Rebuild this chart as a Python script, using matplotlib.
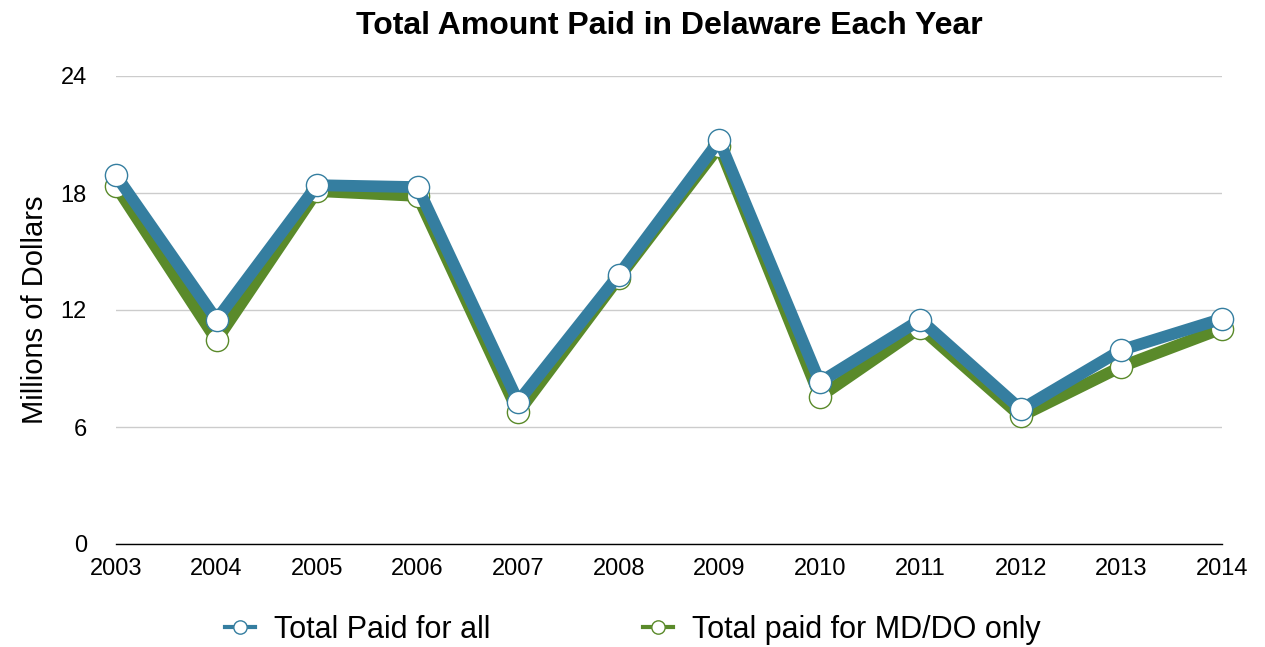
import matplotlib.pyplot as plt

years = [2003, 2004, 2005, 2006, 2007, 2008, 2009, 2010, 2011, 2012, 2013, 2014]
total_all = [18.9, 11.5, 18.4, 18.3, 7.3, 13.8, 20.7, 8.3, 11.5, 6.9, 9.95, 11.55]
total_mddo = [18.35, 10.45, 18.1, 17.85, 6.75, 13.65, 20.4, 7.55, 11.1, 6.55, 9.1, 11.05]
yticks = [0, 6, 12, 18, 24]

blue = '#357ea0'
green = '#5a8a2a'

plt.rcParams['font.family'] = ['Liberation Sans', 'DejaVu Sans']

fig = plt.figure(figsize=(12.65, 6.47), dpi=100)
ax = fig.add_axes([116 / 1265, 103 / 647, 1106 / 1265, 468 / 647])

ax.plot(years, total_mddo, color=green, lw=8.5, marker='o', ms=16,
        mfc='white', mec=green, mew=1, clip_on=False, zorder=3,
        label='Total paid for MD/DO only')
ax.plot(years, total_all, color=blue, lw=8.5, marker='o', ms=16,
        mfc='white', mec=blue, mew=1, clip_on=False, zorder=4,
        label='Total Paid for all')

ax.set_xlim(2003, 2014)
ax.set_ylim(0, 24)
ax.set_xticks(years)
ax.set_yticks(yticks)
ax.tick_params(axis='both', length=0, labelsize=17)
ax.tick_params(axis='x', pad=10)
ax.tick_params(axis='y', pad=21)
ax.grid(axis='y', color='#cccccc', lw=1)
ax.set_axisbelow(True)
for s in ['top', 'right', 'left']:
    ax.spines[s].set_visible(False)
ax.spines['bottom'].set_color('black')
ax.spines['bottom'].set_linewidth(1)

ax.set_ylabel('Millions of Dollars', fontsize=21, labelpad=8)
ax.set_title('Total Amount Paid in Delaware Each Year', fontsize=23,
             fontweight='bold', pad=30)

h, l = ax.get_legend_handles_labels()
leg = fig.legend(h[::-1], l[::-1], loc='center', bbox_to_anchor=(0.5, 0.026),
                 ncol=2, frameon=False, fontsize=22, handlelength=1.0,
                 handletextpad=0.6, columnspacing=5, markerscale=0.6)
for ln in leg.get_lines():
    ln.set_linewidth(3)

fig.savefig('out.png', dpi=100)
